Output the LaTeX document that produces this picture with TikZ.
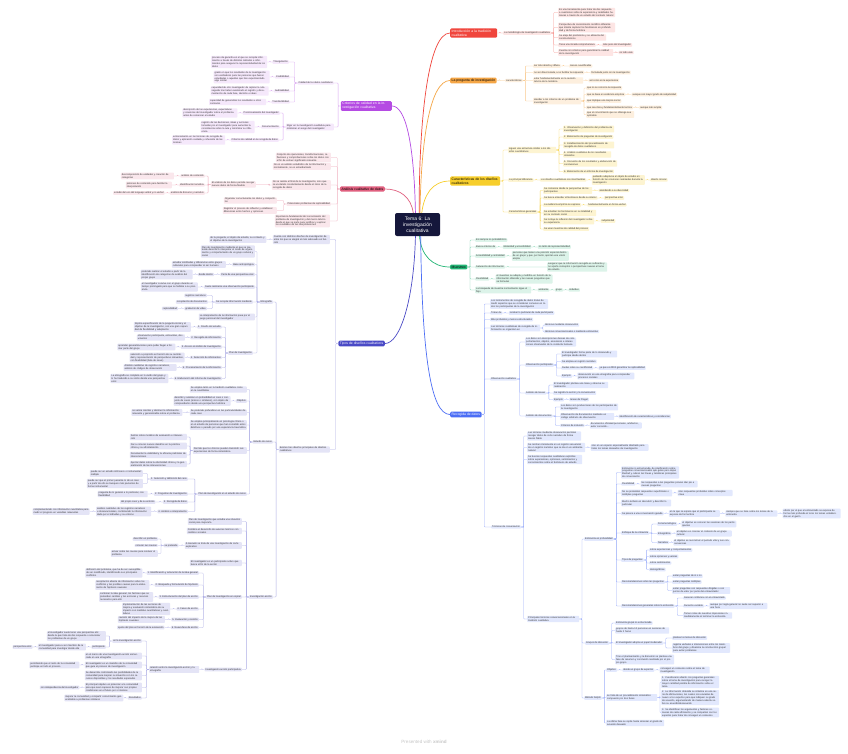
\documentclass[tikz,border=0pt]{standalone}
\usepackage{fontspec}
\setmainfont{Liberation Sans}
\usetikzlibrary{positioning}
\definecolor{centerNavy}{HTML}{15173B}
\definecolor{introRed}{HTML}{F0453C}
\definecolor{pregOrange}{HTML}{F5A646}
\definecolor{caracYellow}{HTML}{F7CE2C}
\definecolor{muesGreen}{HTML}{23B676}
\definecolor{recoBlue}{HTML}{4C6EF5}
\definecolor{critPurple}{HTML}{B54BE3}
\definecolor{analPink}{HTML}{E0607F}
\definecolor{tiposIndigo}{HTML}{4A4AC6}
\newcommand{\leaffont}{\fontsize{2.4}{2.9}\selectfont}
\newcommand{\topicfont}{\fontsize{3.4}{4}\selectfont}

\begin{document}
\begin{tikzpicture}[x=1pt, y=-1pt,
leaf/.style={rounded corners=0.8pt, inner xsep=1pt, inner ysep=0.8pt,
  font=\leaffont, align=left, text=black!80},
rleaf/.style={leaf, anchor=west},
lleaf/.style={leaf, anchor=east},
redbox/.style={rleaf, fill=introRed!14},
orbox/.style={rleaf, fill=pregOrange!18},
yelbox/.style={rleaf, fill=caracYellow!22},
grnbox/.style={rleaf, fill=muesGreen!16},
blubox/.style={rleaf, fill=recoBlue!16},
purbox/.style={lleaf, fill=critPurple!13},
pnkbox/.style={lleaf, fill=analPink!15},
indbox/.style={lleaf, fill=tiposIndigo!15},
topic/.style={rounded corners=1.2pt, inner xsep=1.5pt, inner ysep=1.3pt,
  font=\topicfont, align=left},
centre/.style={fill=centerNavy, text=white, rounded corners=2pt, align=center,
  font=\fontsize{5}{5.8}\selectfont, minimum width=45pt, minimum height=23pt, inner sep=1pt},
conn/.style={line width=0.3pt, rounded corners=0.8pt},
mainline/.style={line width=0.7pt}]

\fill[white] (0,0) rectangle (848,753);
\useasboundingbox (0,0) rectangle (848,753);

% centre and main topics
\node[centre] (tema) at (417.5,224.5) {Tema 6: La\\investigación\\cualitativa};
\node[topic, anchor=west, fill=introRed, text=white, text width=44pt] (intro) at (450,33) {Introducción a la tradición cualitativa};
\node[topic, anchor=west, fill=pregOrange] (preg) at (450,80.5) {La pregunta de investigación};
\node[topic, anchor=west, fill=caracYellow, text width=47pt] (carac) at (450,181) {Características de los diseños cualitativos};
\node[topic, anchor=west, fill=muesGreen] (mues) at (450,267) {Muestreo};
\node[topic, anchor=west, fill=recoBlue, text=white] (reco) at (450,414.5) {Recogida de datos};
\node[topic, anchor=east, fill=critPurple, text=white, text width=48pt] (crit) at (392,106) {Criterios de calidad en la investigación cualitativa};
\node[topic, anchor=east, fill=analPink] (anal) at (385,189) {Análisis cualitativo de datos};
\node[topic, anchor=east, fill=tiposIndigo, text=white] (tipos) at (385,343.5) {Tipos de diseños cualitativos};

\draw[mainline, introRed] (tema.82) .. controls (419,120) and (428,33) .. (intro.west);
\draw[mainline, pregOrange] (tema.78) .. controls (421,140) and (430,80.5) .. (preg.west);
\draw[mainline, caracYellow] (tema.70) .. controls (424,195) and (432,181) .. (carac.west);
\draw[mainline, muesGreen] (tema.-80) .. controls (421,255) and (432,267) .. (mues.west);
\draw[mainline, recoBlue] (tema.-75) .. controls (422,350) and (430,414.5) .. (reco.west);
\draw[mainline, critPurple] (tema.100) .. controls (414,140) and (405,106) .. (crit.east);
\draw[mainline, analPink] (tema.110) .. controls (411,197) and (400,189) .. (anal.east);
\draw[mainline, tiposIndigo] (tema.-100) .. controls (414,300) and (400,343.5) .. (tipos.east);

% introduccion
\node[redbox] (intM) at (503,33) {La metodología de investigación cualitativa};
\node[redbox, text width=55pt] (intA) at (558,12.5) {Es una herramienta para tratar de dar respuesta a cuestiones sobre la experiencia y realidades humanas a través de un estudio del contexto natural};
\node[redbox, text width=55pt] (intB) at (558,27.5) {Perspectiva de conocimiento científico diferente que intenta capturar los fenómenos en profundidad y de forma holística};
\node[redbox, text width=46pt] (intC) at (558,37.5) {Se aleja del positivismo y se alimenta del constructivismo};
\node[redbox] (intD) at (558,45) {Tiene una mirada comprehensiva};
\node[redbox, right=6pt of intD] (intD1) {más peso del investigador};
\node[redbox, text width=53pt] (intE) at (558,52.5) {Cuenta con criterios para garantizar la calidad de la investigación};
\node[redbox, right=5pt of intE] (intE1) {no todo vale};

% pregunta
\node[orbox] (pregC) at (505,80.5) {características};
\node[orbox] (pregC1) at (533,66) {ser más abierta y difusa};
\node[orbox, right=8pt of pregC1] (pregC1a) {menos cuantificable};
\node[orbox] (pregC2) at (533,72.5) {no ser direccionada, a no facilitar la respuesta};
\node[orbox, right=6pt of pregC2] (pregC2a) {formulada junto con la investigación};
\node[orbox, text width=48pt] (pregC3) at (533,80.5) {estar fundamentalmente en la revisión teórica de la temática};
\node[orbox, right=5pt of pregC3] (pregC3a) {así como en la experiencia};
\node[orbox, text width=46pt] (pregC4) at (533,101) {atender a los criterios de un problema de investigación};
\node[orbox] (pregD1) at (586,88) {que no se conozca la respuesta};
\node[orbox] (pregD2) at (586,94.5) {que se base en evidencia empírica};
\node[orbox, right=6pt of pregD2] (pregD2a) {aunque con mayor grado de subjetividad};
\node[orbox] (pregD3) at (586,101) {que implique una mejora social};
\node[orbox] (pregD4) at (586,107.5) {que sea clara y fundamentalmente teórica};
\node[orbox, right=6pt of pregD4] (pregD4a) {aunque más amplia};
\node[orbox, text width=46pt] (pregD5) at (586,114.5) {que el conocimiento que se obtenga sea aplicable};

% caracteristicas
\node[yelbox, text width=46pt] (caracA) at (508,150) {siguen una estructura similar a los diseños cuantitativos};
\node[yelbox, text width=49pt] (caracA1) at (563,129) {1. Observación y definición del problema de investigación};
\node[yelbox] (caracA2) at (563,137) {2. Elaboración de preguntas de investigación};
\node[yelbox, text width=49pt] (caracA3) at (563,145) {3. Establecimiento del procedimiento de recogida de datos cualitativos};
\node[yelbox, text width=46pt] (caracA4) at (563,154.5) {4. Análisis cualitativo de los resultados obtenidos};
\node[yelbox, text width=52pt] (caracA5) at (563,163.5) {5. Discusión de los resultados y elaboración de conclusiones};
\node[yelbox] (caracA6) at (563,171.5) {6. Elaboración de un informe de investigación};
\node[yelbox] (caracB) at (508,180) {La principal diferencia};
\node[yelbox, right=6pt of caracB] (caracB1) {Los diseños cualitativos son más flexibles};
\node[yelbox, text width=51pt, right=5pt of caracB1] (caracB2) {pudiendo adaptarse al objeto de estudio en función de las ocasiones realizadas durante la investigación};
\node[yelbox, right=5pt of caracB2] (caracB3) {diseño circular};
\node[yelbox] (caracC) at (508,212) {Características generales};
\node[yelbox, text width=47pt] (caracC1) at (543,190.5) {Se comienza desde la perspectiva de los participantes};
\node[yelbox, right=6pt of caracC1] (caracC1a) {atendiendo a su diversidad};
\node[yelbox] (caracC2) at (543,198) {Se busca entender el fenómeno desde su interior};
\node[yelbox, right=6pt of caracC2] (caracC2a) {perspectiva emic};
\node[yelbox] (caracC3) at (543,205) {La evidencia empírica se expresa};
\node[yelbox, right=6pt of caracC3] (caracC3a) {fundamentalmente en forma verbal};
\node[yelbox, text width=51pt] (caracC4) at (543,213) {Se estudian los fenómenos en su totalidad y en su contexto social};
\node[yelbox, text width=49pt] (caracC5) at (543,221) {Se incluye la reflexión del investigador sobre su experiencia};
\node[yelbox, right=6pt of caracC5] (caracC5a) {subjetividad};
\node[yelbox] (caracC6) at (543,229) {Se usan muestras de calidad del proceso};

% muestreo
\node[grnbox] (muesA) at (475,240) {Es siempre no probabilístico};
\node[grnbox] (muesB) at (475,247) {Busca criterios de};
\node[grnbox, right=6pt of muesB] (muesB1) {idoneidad y accesibilidad};
\node[grnbox, right=6pt of muesB1] (muesB2) {no tanto de representatividad};
\node[grnbox] (muesC) at (475,256) {Accesibilidad y centralidad};
\node[grnbox, text width=55pt, right=6pt of muesC] (muesC1) {personas que tienen una posición especial dentro de un grupo y que, por tanto, aportan una visión amplia};
\node[grnbox] (muesD) at (475,267) {Saturación de información};
\node[grnbox, text width=58pt] (muesD1) at (547,267) {asegurar que la información recogida es suficiente y no aporta conceptos o perspectivas nuevas al tema de estudio};
\node[grnbox] (muesE) at (475,279) {Flexibilidad};
\node[grnbox, text width=55pt, right=6pt of muesE] (muesE1) {el muestreo se adapta y modifica en función de la información obtenida y las nuevas preguntas que se formulan};
\node[grnbox, text width=54pt] (muesF) at (475,290) {La búsqueda de muestra normalmente sigue el flujo};
\node[grnbox, right=6pt of muesF] (muesF1) {ambiente};
\node[grnbox, right=5pt of muesF1] (muesF2) {grupo};
\node[grnbox, right=5pt of muesF2] (muesF3) {individuo};

% recogida de datos
\node[blubox, text width=56pt] (recA) at (490,304) {Los instrumentos de recogida de datos tratan de medir aspectos que se consideran comunes en todos los participantes de la investigación};
\node[blubox] (recB) at (490,313) {Tratan de};
\node[blubox, right=6pt of recB] (recB1) {recabar lo particular de cada participante};
\node[blubox] (recC) at (490,319.5) {Más profundos y menos estructurados};
\node[blubox, text width=48pt] (recD) at (490,328) {Las técnicas cualitativas de recogida de información se organizan en};
\node[blubox] (recD1) at (544,325) {técnicas mediante observación};
\node[blubox] (recD2) at (544,331.5) {técnicas conversacionales o mediante entrevistas};
\node[blubox] (recE) at (490,379) {Observación cualitativa};
\node[blubox, text width=49pt] (obsA) at (525,342) {Los datos son descripciones densas de comportamientos, objetos, escenarios e interacciones observados de la conducta humana};
\node[blubox] (obsB) at (525,365) {Observación participante};
\node[blubox, text width=54pt] (obsB1) at (561,354) {El investigador forma parte de lo observado y participa desde dentro};
\node[blubox] (obsB2) at (561,361.5) {Se emplea un registro narrativo};
\node[blubox] (obsB3) at (561,368) {Dudas sobre su cientificidad};
\node[blubox, right=5pt of obsB3] (obsB3a) {ya que es difícil garantizar la replicabilidad};
\node[blubox] (obsB4) at (561,376) {Ejemplo};
\node[blubox, text width=55pt, right=5pt of obsB4] (obsB4a) {observación en una etnografía para comprender procesos sociales};
\node[blubox] (obsC) at (525,393) {Análisis de tareas};
\node[blubox, text width=53pt] (obsC1) at (553,385) {El investigador plantea una tarea y observa su realización};
\node[blubox] (obsC2) at (553,393) {Se registra la acción y la conversación};
\node[blubox] (obsC3) at (553,399.5) {Ejemplo};
\node[blubox, right=5pt of obsC3] (obsC3a) {tareas de Piaget};
\node[blubox] (obsD) at (525,416) {Análisis de documentos};
\node[blubox, text width=56pt] (obsD1) at (560,407) {Los datos son producciones de los participantes de la investigación};
\node[blubox, text width=52pt] (obsD2) at (560,416.5) {Observación de documentos mediante un código arbitrario de observación};
\node[blubox, right=4pt of obsD2] (obsD2a) {identificación de características y coincidencias};
\node[blubox] (obsD3) at (560,425.5) {Criterios de inclusión};
\node[blubox, text width=50pt, right=5pt of obsD3] (obsD3a) {documentos oficiales/personales, artefactos, autor conocido...};
\node[blubox] (recF) at (491,527) {Técnicas de conversación};
\node[blubox, text width=52pt] (conA) at (527,436) {Las técnicas mediante observación permiten recoger datos de corte narrativo de forma menos fiable};
\node[blubox, text width=56pt] (conB) at (527,447.5) {Se centran únicamente en un registro secuencial de un registro narrativo que se da en un ambiente natural};
\node[blubox, text width=56pt, right=5pt of conB] (conB1) {sino en un espacio especialmente diseñado para tratar los temas deseados de investigación};
\node[blubox, text width=53pt] (conC) at (527,459.5) {Se buscan respuestas cualitativas explícitas sobre experiencias, opiniones, sentimientos y conocimientos sobre el fenómeno de estudio};
\node[blubox, text width=50pt] (conD) at (527,619) {Principales técnicas conversacionales en la tradición cualitativa};
\node[blubox] (entr) at (584,539) {Entrevista en profundidad};
\node[blubox, text width=56pt] (entA) at (621,472.5) {Entrevista no estructurada, de planificación sobre preguntas conversacionales que guían pero dejan libertad y cubren las líneas y temáticas principales de conversación};
\node[blubox] (entB) at (621,484) {Flexibilidad};
\node[blubox, text width=55pt, right=5pt of entB] (entB1) {las respuestas a las preguntas previas dan pie a nuevas preguntas};
\node[blubox, text width=49pt] (entC) at (621,493) {No se pretenden respuestas superficiales o múltiples preguntas};
\node[blubox, text width=53pt, right=5pt of entC] (entC1) {sino respuestas profundas sobre conceptos clave};
\node[blubox, text width=48pt] (entD) at (621,503) {Mucho énfasis en descubrir y describir lo particular};
\node[blubox] (entE) at (621,513.5) {Se parece a una conversación guiada};
\node[blubox, text width=49pt, right=5pt of entE] (entE1) {en la que se espera que el participante se exprese de forma libre};
\node[blubox, text width=50pt, right=5pt of entE1] (entE2) {siempre que se trate sobre los temas de la entrevista};
\node[blubox, text width=56pt, right=5pt of entE2] (entE3) {efecto por el que el entrevistado se expresa de forma más profunda al tocar los temas establecidos en el guión};
\node[blubox] (entF) at (621,533) {Enfoque de la entrevista};
\node[blubox] (entF1) at (657,524) {Fenomenológica};
\node[blubox, text width=53pt, right=4pt of entF1] (entF1a) {el objetivo es conocer las vivencias de los participantes};
\node[blubox] (entF2) at (657,533.5) {Etnográfica};
\node[blubox, text width=54pt, right=4pt of entF2] (entF2a) {el objetivo es conocer el contexto de un grupo cultural};
\node[blubox] (entF3) at (657,542.5) {Narrativa};
\node[blubox, text width=55pt, right=4pt of entF3] (entF3a) {el objetivo es reconstruir el periodo vital y sus consecuencias};
\node[blubox] (entG) at (621,560) {Tipos de preguntas};
\node[blubox] (entG1) at (649,550) {sobre experiencias y comportamientos};
\node[blubox] (entG2) at (649,556.5) {sobre opiniones y valores};
\node[blubox] (entG3) at (649,563) {sobre sentimientos};
\node[blubox] (entG4) at (649,569.5) {demográficas};
\node[blubox] (entH) at (621,582) {Recomendaciones sobre las preguntas};
\node[blubox] (entH1) at (672,576) {evitar preguntas de sí o no};
\node[blubox] (entH2) at (672,582) {evitar preguntas múltiples};
\node[blubox, text width=56pt] (entH3) at (672,590.5) {evitar preguntas con respuestas dirigidas o con juicios de valor por parte del entrevistador};
\node[blubox] (entI) at (621,606) {Recomendaciones generales sobre la entrevista};
\node[blubox] (entI1) at (683,598) {Generar confianza con el entrevistado};
\node[blubox] (entI2) at (683,606) {Duración variable};
\node[blubox, text width=56pt, right=5pt of entI2] (entI2a) {aunque por regla general no suele ser superior a una hora};
\node[blubox, text width=47pt] (entI3) at (683,615.5) {Tomar notas de nuestras impresiones inmediatamente al terminar la entrevista};
\node[blubox] (grup) at (585,643) {Grupos de discusión};
\node[blubox] (grpA) at (615,623) {Entrevista grupal no estructurada};
\node[blubox, text width=52pt] (grpB) at (615,630.5) {grupos de hasta 10 personas en sesiones de hasta 2 horas};
\node[blubox] (grpC) at (615,643) {El investigador adopta un papel moderador};
\node[blubox] (grpC1) at (672,638) {plantea los temas de discusión};
\node[blubox, text width=56pt] (grpC2) at (672,648) {registra verbales e interacciones entre los miembros del grupo y dinamiza la construcción grupal para evitar problemas};
\node[blubox, text width=57pt] (grpD) at (615,659.5) {Tras el planteamiento y la discusión se plantea una fase de resumen y conclusión realizada por el propio grupo};
\node[blubox] (delp) at (584,698) {Método Delphi};
\node[blubox] (delA) at (606,670) {Objetivo};
\node[blubox, right=5pt of delA] (delA1) {desde un grupo de expertos};
\node[blubox, text width=48pt, right=5pt of delA1] (delA2) {conseguir un consenso sobre el tema de investigación};
\node[blubox, text width=49pt] (delB) at (606,697.5) {se trata de un procedimiento sistemático compuesto por tres fases};
\node[blubox, text width=56pt] (delB1) at (661,682) {1. Cuestionario abierto con preguntas generales sobre el tema de investigación para recoger la mayor cantidad posible de información sobre el tema};
\node[blubox, text width=56pt] (delB2) at (661,697.5) {2. La información obtenida se sintetiza en una serie de afirmaciones, las cuales son enviadas de nuevo a los expertos para que indiquen su grado de acuerdo, argumentando de manera abierta sobre su acuerdo/desacuerdo};
\node[blubox, text width=56pt] (delB3) at (661,712.5) {3. Se identifican los argumentos y factores comunes de cada afirmación y se comparten con los expertos para tratar de conseguir un consenso};
\node[blubox, text width=56pt] (delC) at (606,723) {La última fase se repite hasta alcanzar el grado de acuerdo deseado};

% criterios de calidad
\node[purbox] (critA) at (334,83) {Calidad de los datos cualitativos};
\node[purbox] (critA1) at (289,62) {Triangulación};
\node[purbox, text width=54pt, left=5pt of critA1] (critA1a) {proceso de garantía en el que se recopila información a través de distintos métodos e informantes para asegurar la representatividad de los datos};
\node[purbox] (critA2) at (290,77) {Credibilidad};
\node[purbox, text width=54pt, left=5pt of critA2] (critA2a) {grado en que los resultados de la investigación son verdaderos para las personas que fueron estudiadas o aquellas que han experimentado algo similar};
\node[purbox] (critA3) at (290,91) {Auditabilidad};
\node[purbox, text width=56pt, left=5pt of critA3] (critA3a) {capacidad de otro investigador de replicar la ruta seguida tras haber examinado el registro y documentación de cada fase, decisión e ideas};
\node[purbox] (critA4) at (290,102) {Transferibilidad};
\node[purbox, text width=55pt, left=5pt of critA4] (critA4a) {capacidad de generalizar los resultados a otros contextos};
\node[purbox, text width=46pt] (critB) at (334,127) {Rigor en la investigación cualitativa para minimizar el sesgo del investigador};
\node[purbox] (critB1) at (280,113) {Posicionamiento del investigador};
\node[purbox, text width=53pt, left=5pt of critB1] (critB1a) {descripción de las experiencias, expectativas y creencias del investigador sobre el problema antes de comenzar el estudio};
\node[purbox] (critB2) at (280,127) {Documentación};
\node[purbox, text width=52pt, left=6pt of critB2] (critB2a) {registro de las decisiones, ideas y acciones tomadas por el investigador para aumentar la consistencia sobre la ruta y minimizar su influencia};
\node[purbox] (critB3) at (279,140) {Criterios de calidad en la recogida de datos};
\node[purbox, text width=51pt, left=5pt of critB3] (critB3a) {entrenamiento en las técnicas de recogida de datos y aplicación cuidada y coherente de las mismas};

% analisis
\node[pnkbox, text width=53pt] (analA) at (331,157.5) {Conjunto de operaciones, transformaciones, reflexiones y comprobaciones sobre los datos con el fin de extraer significado relevante};
\node[pnkbox, text width=56pt] (analB) at (331,166.5) {No es un análisis estadístico de la información y normalmente, no es estandarizado};
\node[pnkbox, text width=57pt] (analC) at (331,185) {No se realiza al final de la investigación, sino que se va dando constantemente desde el inicio de la recogida de datos};
\node[pnkbox, text width=43pt] (analC1) at (256,184.5) {El análisis de los datos permite recoger nuevos datos de forma flexible};
\node[pnkbox] (analD1) at (205,176) {análisis de contenido};
\node[pnkbox, text width=51pt, left=6pt of analD1] (analD1a) {descomposición de unidades y creación de categorías};
\node[pnkbox] (analD2) at (205,185) {identificación temática};
\node[pnkbox, text width=44pt, left=7pt of analD2] (analD2a) {patrones de contenido para facilitar la interpretación};
\node[pnkbox] (analD3) at (205,193) {análisis de discurso y narrativo};
\node[pnkbox, left=5pt of analD3] (analD3a) {estudio del uso del lenguaje verbal y no verbal};
\node[pnkbox] (analE) at (331,204) {Potenciales problemas de replicabilidad};
\node[pnkbox, text width=51pt] (analE1) at (277,200.5) {Organizar correctamente los datos y compartirlos};
\node[pnkbox, text width=52pt] (analE2) at (277,210.5) {Registrar el proceso de reflexión y establecer diferencias entre hechos y opiniones};
\node[pnkbox, text width=53pt] (analF) at (330,221) {Importancia fundamental del conocimiento del problema de investigación y del marco teórico desde el que se parte para justificar y explicar los resultados de las interpretaciones};

% tipos de disenos
\node[indbox, text width=55pt] (tipA) at (330,239.5) {Cuenta con distintos diseños de investigación de entre los que se elegirá el más adecuado en función};
\node[indbox, text width=55pt, left=6pt of tipA] (tipA1) {de la pregunta, el objeto de estudio, su contexto y el objetivo de la investigación};
\node[indbox, text width=49pt] (tipB) at (330,449.5) {Existen tres diseños principales de diseños cualitativos};
\node[indbox] (etno) at (273,302) {Etnografía};
\node[indbox] (caso) at (273,442) {Estudio de casos};
\node[indbox] (iacc) at (273,597) {Investigación-acción};
% etnografia
\node[indbox, text width=52pt] (etA) at (255,251.5) {Plan de investigación mediante el que se pretende describir e interpretar el modo de organización y comportamiento de un grupo cultural y social};
\node[indbox] (etB) at (255,264.5) {Base antropológica};
\node[indbox, text width=52pt, left=6pt of etB] (etB1) {estudiar similitudes y diferencias entre grupos culturales para comprender al ser humano};
\node[indbox] (etC) at (255,274.5) {Parte de una perspectiva emic};
\node[indbox, left=6pt of etC] (etC1) {desde dentro};
\node[indbox, text width=50pt, left=5pt of etC1] (etC2) {pretende realizar el estudio a partir de la identificación de categorías de análisis del propio grupo};
\node[indbox] (etD) at (255,287) {Suele realizarse una observación participante};
\node[indbox, text width=55pt, left=6pt of etD] (etD1) {el investigador convive con el grupo durante un tiempo prolongado para que se habitúe a su presencia};
\node[indbox] (etE) at (253,302) {Se recopila información mediante};
\node[indbox] (etE1) at (207,295.5) {registros narrativos};
\node[indbox] (etE2) at (208,302) {recopilación de documentos};
\node[indbox] (etE3) at (207,308.5) {grabación de vídeo};
\node[indbox, left=6pt of etE3] (etE3a) {replicabilidad};
\node[indbox, text width=54pt] (etF) at (255,317) {La interpretación de la información pasa por el juego personal del investigador};
\node[indbox] (etG) at (253,353) {Plan de investigación};
\node[indbox] (etG1) at (222,327) {1. Diseño del estudio};
\node[indbox, text width=55pt, left=6pt of etG1] (etG1a) {Implica especificación de la pregunta inicial y el objetivo de la investigación, con una gran capacidad de flexibilidad y adaptación};
\node[indbox] (etG2) at (222,337.5) {2. Recogida de información};
\node[indbox, text width=46pt, left=5pt of etG2] (etG2a) {observación participante, entrevistas, documentos};
\node[indbox] (etG3) at (222,347) {3. Acceso al ámbito de investigación};
\node[indbox, text width=56pt, left=5pt of etG3] (etG3a) {aprender generalizaciones para poder llegar a formar parte del grupo};
\node[indbox] (etG4) at (222,357.5) {4. Selección de informantes};
\node[indbox, text width=53pt, left=5pt of etG4] (etG4a) {selección a propósito en función de su centralidad y representación de perspectivas relevantes, con flexibilidad (bola de nieve)};
\node[indbox] (etG5) at (222,367.5) {5. Procesamiento de la información};
\node[indbox, text width=51pt, left=5pt of etG5] (etG5a) {Análisis cualitativo de registros narrativos, análisis de códigos de observación};
\node[indbox] (etG6) at (222,378.5) {6. Elaboración del informe de investigación};
\node[indbox, text width=56pt, left=5pt of etG6] (etG6a) {La etnografía se completa en lo vivido del grupo y lo ha traducido a su visión desde una perspectiva emic};
% estudio de casos
\node[indbox, text width=55pt] (csA) at (247,389.5) {Se emplea tanto en la tradición cualitativa como en la cuantitativa};
\node[indbox] (csB) at (247,401) {Objetivo};
\node[indbox, text width=55pt, left=5pt of csB] (csB1) {describir y analizar en profundidad un caso o conjunto de casos (únicos o similares), con objeto de comprenderlos desde una perspectiva holística};
\node[indbox, text width=55pt] (csC) at (247,412.5) {Se pretende profundizar en las particularidades de cada caso};
\node[indbox, text width=49pt, left=7pt of csC] (csC1) {se valora orientar y abstraer la información relevante y generalizable sobre el problema};
\node[indbox, text width=55pt] (csD) at (247,425) {Se emplea principalmente en psicología clínica o en el estudio de personas que han cometido actos delictivos o pasado por una experiencia traumática};
\node[indbox, text width=52pt] (csE) at (247,450.5) {Permite que los clínicos puedan transmitir sus experiencias de forma sistemática};
\node[indbox, text width=55pt] (csE1) at (187,437) {Ilustrar sobre modelos de evaluación e intervención};
\node[indbox, text width=55pt] (csE2) at (187,446) {Dar a conocer nuevos desafíos en la práctica clínica y su afrontamiento};
\node[indbox, text width=55pt] (csE3) at (187,455) {Documentar la viabilidad y la eficacia preliminar de intervenciones};
\node[indbox, text width=55pt] (csE4) at (187,464) {Aportar datos sobre la efectividad clínica y la generalización de las intervenciones};
\node[indbox] (csF) at (247,494) {Plan de investigación en el estudio de casos};
\node[indbox] (csF1) at (188,479) {1. Selección y definición del caso};
\node[indbox, text width=51pt] (csF1a) at (143,473.5) {puede ser un estudio intrínseco o instrumental: múltiple};
\node[indbox, text width=54pt] (csF1b) at (143,483.5) {puede ser que el primer paciente lo dé un caso y a partir de ello se busquen más pacientes de forma instrumental};
\node[indbox] (csF2) at (188,494) {2. Preguntas de investigación};
\node[indbox, text width=48pt, left=6pt of csF2] (csF2a) {pregunta de lo general a lo particular, con flexibilidad};
\node[indbox] (csF3) at (188,502) {3. Recogida de datos};
\node[indbox, left=7pt of csF3] (csF3a) {del propio caso y de su entorno};
\node[indbox] (csF4) at (188,511.5) {4. Análisis e interpretación};
\node[indbox, text width=53pt, left=6pt of csF4] (csF4a) {análisis cualitativo de los registros narrativos u observacionales, combinando la información dada por el individuo y su entorno};
\node[indbox, text width=55pt, left=6pt of csF4a] (csF4b) {complementando con información cuantitativa para medir el progreso en variables relevantes};
% investigacion-accion
\node[indbox, text width=52pt] (iaA) at (242,521.5) {Plan de investigación que estudia una situación social para mejorarla};
\node[indbox, text width=53pt] (iaB) at (242,531) {Combina el desarrollo de avances teóricos con cambios sociales};
\node[indbox, text width=55pt] (iaC) at (242,545.5) {A menudo se trata de una investigación de corte explicativo};
\node[indbox, left=6pt of iaC] (iaC1) {se pretende};
\node[indbox] (iaC1a) at (158,539) {describir un problema};
\node[indbox] (iaC1b) at (158,545.5) {conocer sus causas};
\node[indbox, text width=45pt] (iaC1c) at (158,553.5) {actuar sobre las causas para resolver el problema};
\node[indbox, text width=50pt] (iaD) at (242,563) {El investigador es un participante activo que busca el fin de la acción};
\node[indbox] (iaE) at (242,597) {Plan de investigación en espiral};
\node[indbox] (iaE1) at (199,573) {1. Identificación y aclaración de la idea general};
\node[indbox, text width=55pt, left=4pt of iaE1] (iaE1a) {definición del problema, que ha de ser susceptible de ser modificado, identificando sus principales conflictos};
\node[indbox] (iaE2) at (199,585) {2. Búsqueda y formulación de hipótesis};
\node[indbox, text width=52pt, left=5pt of iaE2] (iaE2a) {recopilación abierta de información sobre los conflictos y las posibles causas para la elaboración de hipótesis causales};
\node[indbox] (iaE3) at (199,597) {3. Estructuración del plan de acción};
\node[indbox, text width=52pt, left=5pt of iaE3] (iaE3a) {combinar la idea general, los factores que se pretenden cambiar y las acciones y recursos necesarios para ello};
\node[indbox] (iaE4) at (199,609) {4. Fases de acción};
\node[indbox, text width=46pt, left=6pt of iaE4] (iaE4a) {Implementación de las acciones de mejora y evaluación sistemática de su impacto con medidas cuantitativas y cualitativas};
\node[indbox] (iaE5) at (199,619.5) {5. Evaluación y revisión};
\node[indbox, text width=45pt, left=6pt of iaE5] (iaE5a) {revisión del impacto de la mejora de las hipótesis causales};
\node[indbox] (iaE6) at (199,627.5) {6. Nueva fase de acción};
\node[indbox, left=6pt of iaE6] (iaE6a) {ajuste del plan en función de la evaluación};
\node[indbox] (iaF) at (242,669.5) {Investigación-acción participativa};
\node[indbox, text width=48pt, left=5pt of iaF] (iaF0) {relación entre la investigación-acción y la etnografía};
\node[indbox] (iaF1) at (142,641) {en la investigación-acción};
\node[indbox, text width=57pt] (iaF1a) at (106,636) {el investigador suele tener una perspectiva etic desde la que trata de dar respuesta o solucionar los problemas de un grupo};
\node[indbox] (iaF1b) at (106,647) {participante};
\node[indbox, text width=46pt, left=5pt of iaF1b] (iaF1c) {el investigador pasa a ser miembro de la comunidad para investigar desde ella};
\node[indbox, left=5pt of iaF1c] (iaF1d) {perspectiva emic};
\node[indbox, text width=55pt] (iaF2) at (142,656) {en el marco de una investigación-acción enmarcada en una etnografía};
\node[indbox, text width=55pt] (iaF3) at (142,665) {El investigador es un miembro de la comunidad que guía el proceso de investigación};
\node[indbox, text width=48pt, left=5pt of iaF3] (iaF3a) {permitiendo que el resto de la comunidad participe en todo el proceso};
\node[indbox, text width=55pt] (iaF4) at (142,675.5) {Se desarrolla controlando las posibilidades de la comunidad para mejorar su situación con los recursos disponibles y los resultados esperados};
\node[indbox, text width=55pt] (iaF5) at (142,687.5) {El principal objetivo es potenciar a la comunidad para que sean capaces de mejorar sus propias condiciones en el futuro por sí mismos};
\node[indbox, left=5pt of iaF5] (iaF5a) {con independencia del investigador};
\node[indbox] (iaF6) at (142,698) {Resultados};
\node[indbox, text width=57pt, left=4pt of iaF6] (iaF6a) {mejorar la comunidad y compartir conocimiento generalizable a problemas similares};

% connectors, right side
\foreach \a/\b in {intro/intM, intM/intA, intM/intB, intM/intC, intM/intD, intM/intE, intD/intD1, intE/intE1}
  \draw[conn, draw=introRed!55] (\a.east) -- ++(2.5,0) |- (\b.west);
\foreach \a/\b in {preg/pregC, pregC/pregC1, pregC/pregC2, pregC/pregC3, pregC/pregC4, pregC1/pregC1a, pregC2/pregC2a, pregC3/pregC3a,
  pregC4/pregD1, pregC4/pregD2, pregC4/pregD3, pregC4/pregD4, pregC4/pregD5, pregD2/pregD2a, pregD4/pregD4a}
  \draw[conn, draw=pregOrange!60] (\a.east) -- ++(2.5,0) |- (\b.west);
\foreach \a/\b in {carac/caracA, carac/caracB, carac/caracC, caracA/caracA1, caracA/caracA2, caracA/caracA3, caracA/caracA4, caracA/caracA5, caracA/caracA6,
  caracB/caracB1, caracB1/caracB2, caracB2/caracB3, caracC/caracC1, caracC/caracC2, caracC/caracC3, caracC/caracC4, caracC/caracC5, caracC/caracC6,
  caracC1/caracC1a, caracC2/caracC2a, caracC3/caracC3a, caracC5/caracC5a}
  \draw[conn, draw=caracYellow!75] (\a.east) -- ++(2.5,0) |- (\b.west);
\foreach \a/\b in {mues/muesA, mues/muesB, mues/muesC, mues/muesD, mues/muesE, mues/muesF, muesB/muesB1, muesB1/muesB2, muesC/muesC1,
  muesD/muesD1, muesE/muesE1, muesF/muesF1, muesF1/muesF2, muesF2/muesF3}
  \draw[conn, draw=muesGreen!55] (\a.east) -- ++(2.5,0) |- (\b.west);
\foreach \a/\b in {reco/recA, reco/recB, reco/recC, reco/recD, reco/recE, reco/recF, recB/recB1, recD/recD1, recD/recD2,
  recE/obsA, recE/obsB, recE/obsC, recE/obsD, obsB/obsB1, obsB/obsB2, obsB/obsB3, obsB/obsB4, obsB3/obsB3a, obsB4/obsB4a,
  obsC/obsC1, obsC/obsC2, obsC/obsC3, obsC3/obsC3a, obsD/obsD1, obsD/obsD2, obsD/obsD3, obsD2/obsD2a, obsD3/obsD3a,
  recF/conA, recF/conB, recF/conC, recF/conD, conB/conB1, conD/entr, conD/grup, conD/delp,
  entr/entA, entr/entB, entr/entC, entr/entD, entr/entE, entr/entF, entr/entG, entr/entH, entr/entI,
  entB/entB1, entC/entC1, entE/entE1, entE1/entE2, entE2/entE3, entF/entF1, entF/entF2, entF/entF3,
  entF1/entF1a, entF2/entF2a, entF3/entF3a, entG/entG1, entG/entG2, entG/entG3, entG/entG4,
  entH/entH1, entH/entH2, entH/entH3, entI/entI1, entI/entI2, entI/entI3, entI2/entI2a,
  grup/grpA, grup/grpB, grup/grpC, grup/grpD, grpC/grpC1, grpC/grpC2,
  delp/delA, delp/delB, delp/delC, delA/delA1, delA1/delA2, delB/delB1, delB/delB2, delB/delB3}
  \draw[conn, draw=recoBlue!55] (\a.east) -- ++(2.5,0) |- (\b.west);

% connectors, left side
\foreach \a/\b in {crit/critA, crit/critB, critA/critA1, critA/critA2, critA/critA3, critA/critA4, critA1/critA1a, critA2/critA2a,
  critA3/critA3a, critA4/critA4a, critB/critB1, critB/critB2, critB/critB3, critB1/critB1a, critB2/critB2a, critB3/critB3a}
  \draw[conn, draw=critPurple!50] (\a.west) -- ++(-2.5,0) |- (\b.east);
\foreach \a/\b in {anal/analA, anal/analB, anal/analC, anal/analE, anal/analF, analC/analC1, analC1/analD1, analC1/analD2, analC1/analD3,
  analD1/analD1a, analD2/analD2a, analD3/analD3a, analE/analE1, analE/analE2}
  \draw[conn, draw=analPink!55] (\a.west) -- ++(-2.5,0) |- (\b.east);
\foreach \a/\b in {tipos/tipA, tipos/tipB, tipA/tipA1, tipB/etno, tipB/caso, tipB/iacc,
  etno/etA, etno/etB, etno/etC, etno/etD, etno/etE, etno/etF, etno/etG, etB/etB1, etC/etC1, etC1/etC2, etD/etD1,
  etE/etE1, etE/etE2, etE/etE3, etE3/etE3a, etG/etG1, etG/etG2, etG/etG3, etG/etG4, etG/etG5, etG/etG6,
  etG1/etG1a, etG2/etG2a, etG3/etG3a, etG4/etG4a, etG5/etG5a, etG6/etG6a,
  caso/csA, caso/csB, caso/csC, caso/csD, caso/csE, caso/csF, csB/csB1, csC/csC1,
  csE/csE1, csE/csE2, csE/csE3, csE/csE4, csF/csF1, csF/csF2, csF/csF3, csF/csF4,
  csF1/csF1a, csF1/csF1b, csF2/csF2a, csF3/csF3a, csF4/csF4a, csF4a/csF4b,
  iacc/iaA, iacc/iaB, iacc/iaC, iacc/iaD, iacc/iaE, iacc/iaF, iaC/iaC1, iaC1/iaC1a, iaC1/iaC1b, iaC1/iaC1c,
  iaE/iaE1, iaE/iaE2, iaE/iaE3, iaE/iaE4, iaE/iaE5, iaE/iaE6,
  iaE1/iaE1a, iaE2/iaE2a, iaE3/iaE3a, iaE4/iaE4a, iaE5/iaE5a, iaE6/iaE6a,
  iaF/iaF0, iaF0/iaF1, iaF0/iaF2, iaF0/iaF3, iaF0/iaF4, iaF0/iaF5, iaF0/iaF6,
  iaF1/iaF1a, iaF1/iaF1b, iaF1b/iaF1c, iaF1c/iaF1d, iaF3/iaF3a, iaF5/iaF5a, iaF6/iaF6a}
  \draw[conn, draw=tiposIndigo!45] (\a.west) -- ++(-2.5,0) |- (\b.east);

\node[text=black!22, font=\fontsize{4.6}{5}\selectfont] (footer) at (424,742) {Presented with \textbf{xmind}};
\end{tikzpicture}
\end{document}
